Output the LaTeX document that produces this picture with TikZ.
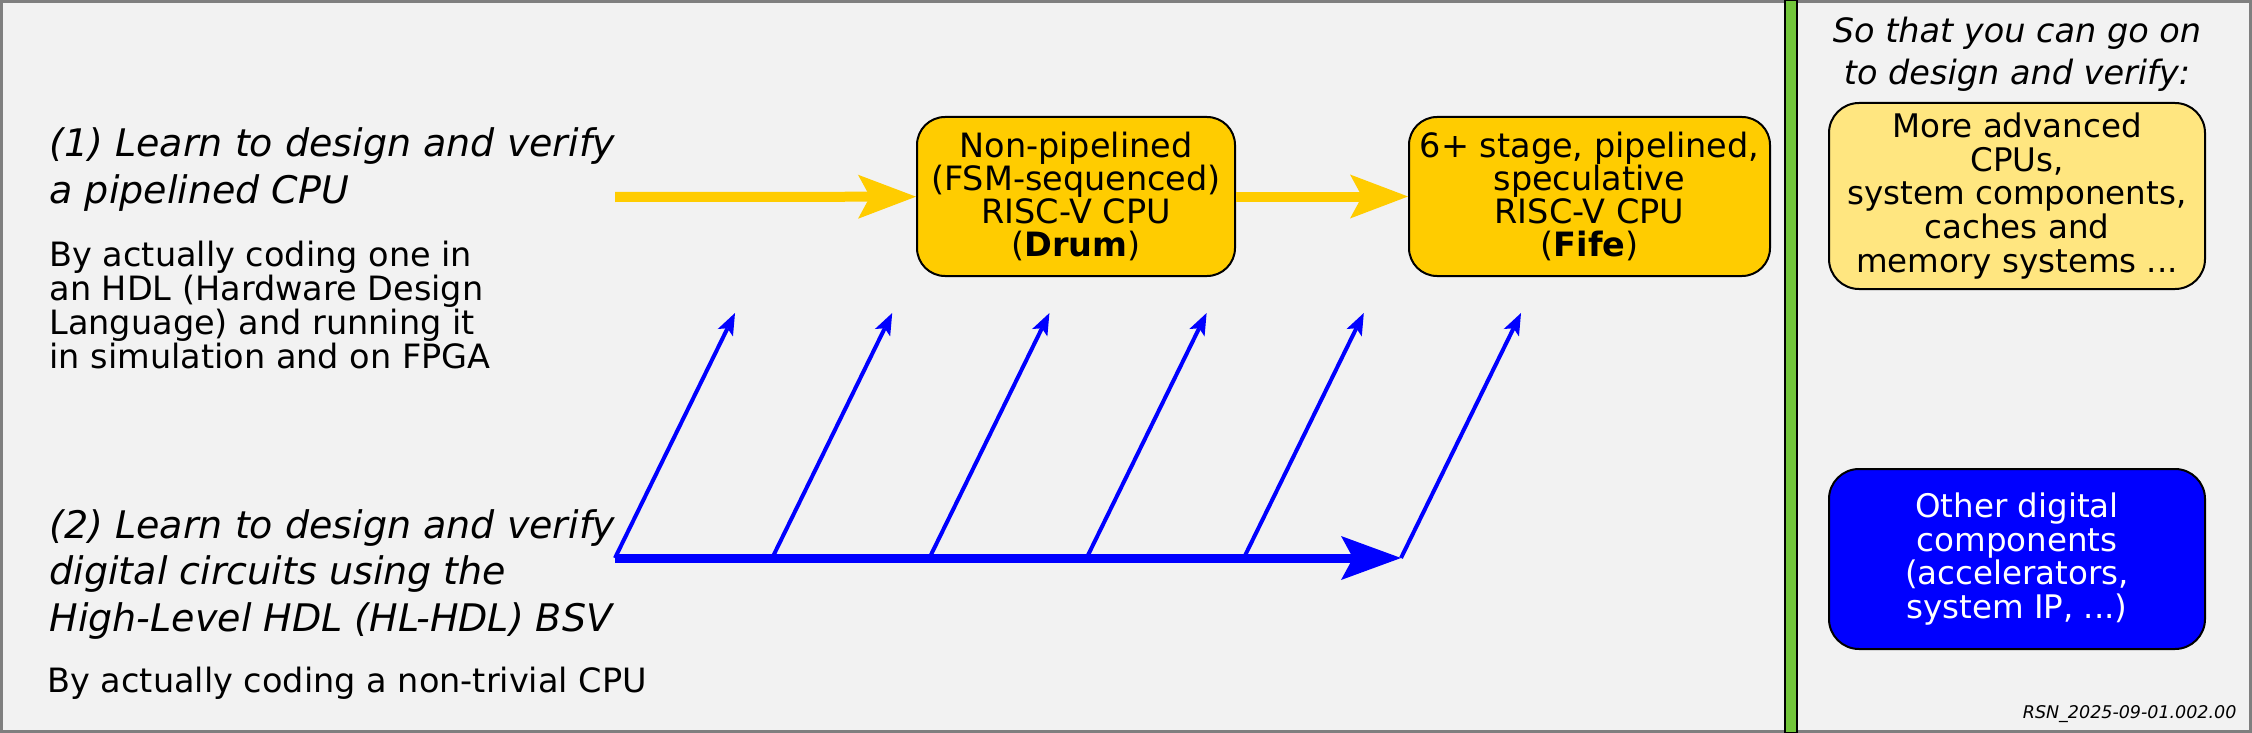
\documentclass[tikz,border=0pt]{standalone}
\usepackage{fontspec}
\setmainfont{DejaVu Sans}
\usepackage{xcolor}
\usepackage{tikz}
\usetikzlibrary{arrows.meta, positioning}

\definecolor{panelgray}{HTML}{F2F2F2}
\definecolor{framegray}{HTML}{7F7F7F}
\definecolor{cpuyellow}{HTML}{FFCC00}
\definecolor{paleyellow}{HTML}{FFE680}
\definecolor{pureblue}{HTML}{0000FF}
\definecolor{bargreen}{HTML}{72C63A}

\newcommand{\goalfont}{\itshape\fontsize{38}{46.5}\selectfont}
\newcommand{\howfont}{\fontsize{33.5}{33.7}\selectfont}
\newcommand{\cpufont}{\fontsize{33.5}{33.2}\selectfont}
\newcommand{\nextfont}{\fontsize{32.5}{33.8}\selectfont}
\newcommand{\capfont}{\itshape\fontsize{33.5}{42}\selectfont}

\begin{document}
\begin{tikzpicture}[x=1pt, y=-1pt,
    cpubox/.style={draw=black, line width=2pt, fill=cpuyellow, rounded corners=28pt,
        minimum width=318pt, minimum height=159pt, inner sep=0pt, align=center, font=\cpufont},
    nextbox/.style={draw=black, line width=2pt, rounded corners=30pt,
        minimum width=376pt, minimum height=186pt, inner sep=0pt, align=center, font=\nextfont},
    yarrow/.style={cpuyellow, line width=10pt,
        -{Stealth[length=58pt, width=44pt, inset=12pt, line width=0pt]}},
    bthick/.style={pureblue, line width=9pt,
        -{Stealth[length=60pt, width=44pt, inset=12pt, line width=0pt]}},
    bthin/.style={pureblue, line width=4pt,
        -{Stealth[length=22pt, width=17pt, inset=5pt, line width=0pt]}}]
    \fill[panelgray] (0,0) rectangle (2252,733);
    \useasboundingbox (0,0) rectangle (2252,733);
    \draw[framegray, line width=3pt] (1.5,1.5) rectangle (2250.5,731.5);
    \filldraw[fill=bargreen, draw=black, line width=2pt] (1785,0) rectangle (1797,733);

    \node[anchor=base west, align=left, font=\goalfont] (goal1) at (46,203) {(1) Learn to design and verify\\a pipelined CPU};
    \node[anchor=base west, align=left, font=\howfont] (how1) at (46,368) {By actually coding one in\\an HDL (Hardware Design\\Language) and running it\\in simulation and on FPGA};
    \node[anchor=base west, align=left, font=\goalfont] (goal2) at (46,631) {(2) Learn to design and verify\\digital circuits using the\\High-Level HDL (HL-HDL) BSV};
    \node[anchor=base west, align=left, font=\howfont] (how2) at (44,692) {By actually coding a non-trivial CPU};

    \coordinate (ystart) at (615,197);
    \node[cpubox] (drum) at (1076,196.5) {Non-pipelined\\(FSM-sequenced)\\RISC-V CPU\\(\textbf{Drum})};
    \node[cpubox, minimum width=361pt] (fife) at (1589.5,196.5) {6+ stage, pipelined,\\speculative\\RISC-V CPU\\(\textbf{Fife})};
    \draw[yarrow] (ystart) -- (drum);
    \draw[yarrow] (drum) -- (fife);

    \foreach \i in {0,...,5} {
        \coordinate (b\i) at (615+157.2*\i,558);
        \coordinate (t\i) at (735+157.2*\i,313);
    }
    \draw[bthick] (b0) -- (b5);
    \foreach \i in {0,...,5}
        \draw[bthin] (b\i) -- (t\i);

    \node[anchor=base, align=center, font=\capfont] (soyou) at (2017,85) {So that you can go on\\to design and verify:};
    \node[nextbox, fill=paleyellow] (adv) at (2017,196) {More advanced\\CPUs,\\system components,\\caches and\\memory systems ...};
    \node[nextbox, fill=pureblue, text=white, minimum height=180pt] (other) at (2017,559) {Other digital\\components\\(accelerators,\\system IP, ...)};

    \node[anchor=base east, font=\itshape\fontsize{17.5}{19}\selectfont] (rsn) at (2240,718) {RSN\_2025-09-01.002.00};
\end{tikzpicture}
\end{document}
